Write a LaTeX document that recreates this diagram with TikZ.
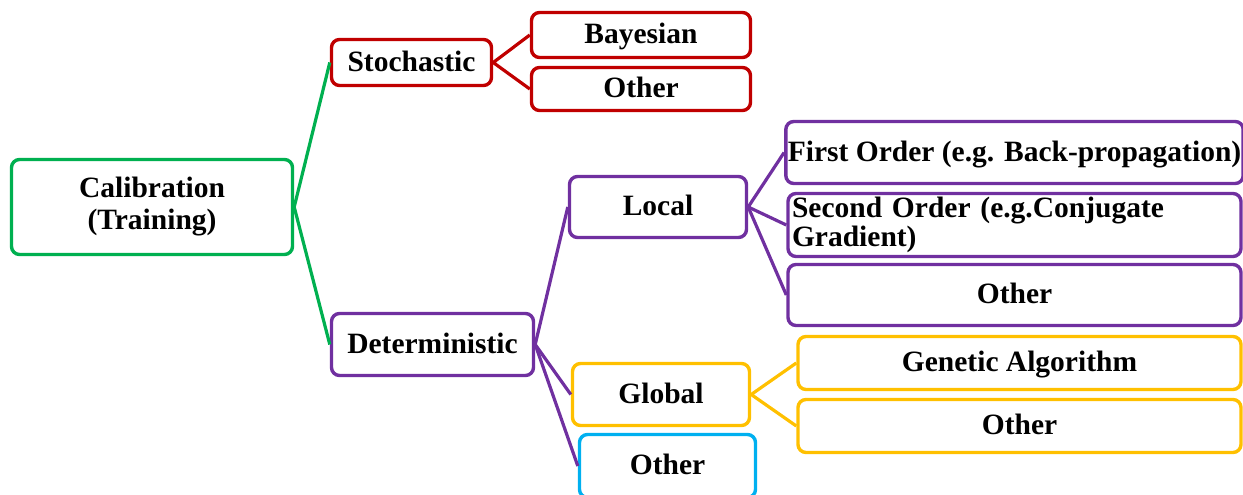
\documentclass[tikz,border=0pt]{standalone}
\usepackage{fontspec}
\setmainfont{Liberation Serif}
\definecolor{cgreen}{HTML}{00B050}
\definecolor{cred}{HTML}{C00000}
\definecolor{cpurple}{HTML}{7030A0}
\definecolor{cyellow}{HTML}{FFC000}
\definecolor{cblue}{HTML}{00B0F0}
\begin{document}
\begin{tikzpicture}[x=1pt,y=-1pt,
  font=\fontsize{29.5}{29.5}\selectfont\bfseries,
  box/.style={draw, line width=3.4pt, rounded corners=8pt, fill=white,
    inner sep=2pt, align=center, text=black},
  oneline/.style={box, text height=20pt, text depth=3pt},
  link/.style={line width=3.2pt},
]
\path[use as bounding box] (0,0) rectangle (1243,495);
\clip (0,0) rectangle (1243,495);

% root
\node[box, draw=cgreen, minimum width=281pt, minimum height=95pt,
  font=\fontsize{29.5}{32}\selectfont\bfseries] (cal) at (152,207) {Calibration\\(Training)};

% stochastic branch
\node[oneline, draw=cred, minimum width=160pt, minimum height=46pt] (sto) at (411.5,62.5) {Stochastic};
\node[oneline, draw=cred, minimum width=219pt, minimum height=45pt] (bay) at (641,35) {Bayesian};
\node[oneline, draw=cred, minimum width=219pt, minimum height=43pt] (othR) at (641,89) {Other};

% deterministic branch
\node[oneline, draw=cpurple, minimum width=202pt, minimum height=62pt] (det) at (432.5,344.5) {Deterministic};
\node[oneline, draw=cpurple, minimum width=177pt, minimum height=61pt] (loc) at (658,207) {Local};
\node[oneline, draw=cpurple, minimum width=453pt, minimum height=62pt] (first) at (1014.5,152.5) {First Order (e.g. Back-propagation)};
\node[box, draw=cpurple, minimum width=453pt, minimum height=63pt, text width=445pt, align=left] (second) at (1014.5,225) {Second Order (e.g.Conjugate\\Gradient)};
\node[oneline, draw=cpurple, minimum width=453pt, minimum height=61pt] (othP) at (1014.5,295) {Other};

\node[oneline, draw=cyellow, minimum width=177pt, minimum height=62pt] (glob) at (661,394.5) {Global};
\node[oneline, draw=cyellow, minimum width=443pt, minimum height=53pt] (gen) at (1019.5,363) {Genetic Algorithm};
\node[oneline, draw=cyellow, minimum width=443pt, minimum height=53pt] (othY) at (1019.5,426) {Other};

\node[oneline, draw=cblue, minimum width=176pt, minimum height=63pt] (othB) at (667.5,466) {Other};

% connectors
\draw[link, cgreen] (sto.west) -- (cal.east) -- (det.west);
\draw[link, cred] (bay.west) -- (sto.east) -- (othR.west);
\draw[link, cpurple] (loc.west) -- (det.east) -- (glob.west);
\draw[link, cpurple] (det.east) -- (othB.west);
\draw[link, cpurple] (first.west) -- (loc.east) -- (second.west);
\draw[link, cpurple] (loc.east) -- (othP.west);
\draw[link, cyellow] (gen.west) -- (glob.east) -- (othY.west);
\end{tikzpicture}
\end{document}
